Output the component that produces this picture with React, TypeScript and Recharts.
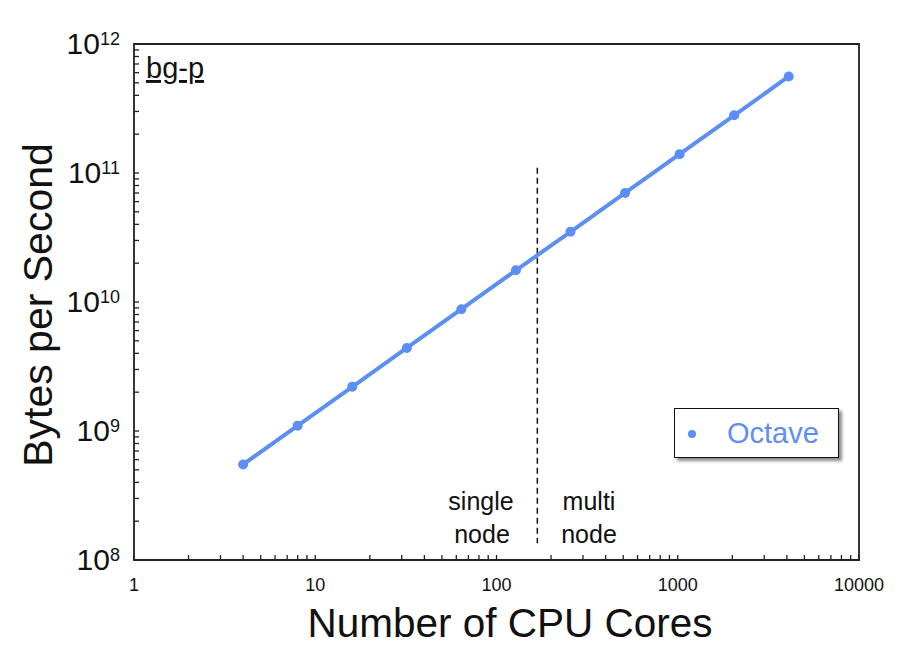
import React from 'react';
import { LineChart, Line, XAxis, YAxis, ReferenceLine, ReferenceArea, Legend } from 'recharts';

// ---- data ----
const cores = [4, 8, 16, 32, 64, 128, 256, 512, 1024, 2048, 4096];
const octaveBytesPerSec = [5.5e8, 1.1e9, 2.2e9, 4.4e9, 8.8e9, 1.76e10, 3.5e10, 7.0e10, 1.4e11, 2.8e11, 5.6e11];
const seriesName = 'Octave';

const xMajorTicks = [1, 10, 100, 1000, 10000];
const xMajorLabels = ['1', '10', '100', '1000', '10000'];
const yMajorTicks = [1e8, 1e9, 1e10, 1e11, 1e12];
const yExponentLabels = ['8', '9', '10', '11', '12'];
const minorMultipliers = [2, 3, 4, 5, 6, 7, 8, 9];

const nodeSplitCores = 168;
const dashTopBytes = 1.1e11;
const dashBottomBytes = 1.35e8;

const BLUE = '#5d8ef6';
const FONT = '"Liberation Sans", Arial, Helvetica, sans-serif';

const rows = cores.map((c, i) => ({ cores: c, octave: octaveBytesPerSec[i] }));

const withMinor = (majors: number[]) => {
  const out: number[] = [];
  majors.forEach((m, i) => {
    out.push(m);
    if (i < majors.length - 1) minorMultipliers.forEach((k) => out.push(m * k));
  });
  return out;
};
const xTicks = withMinor(xMajorTicks);
const yTicks = withMinor(yMajorTicks);

const findMajor = (arr: number[], v: number) => arr.findIndex((m) => Math.abs(v / m - 1) < 1e-6);

const XTick = (props: any) => {
  const { x, y, payload } = props;
  const idx = findMajor(xMajorTicks, payload.value);
  return (
    <g>
      <line x1={x} x2={x} y1={y} y2={y - 5} stroke="#222" strokeWidth={1.3} />
      {idx >= 0 && (
        <text x={x} y={y + 31} textAnchor="middle" fontSize={18} fontFamily={FONT} fill="#111">
          {xMajorLabels[idx]}
        </text>
      )}
    </g>
  );
};

const YTick = (props: any) => {
  const { x, y, payload } = props;
  const idx = findMajor(yMajorTicks, payload.value);
  return (
    <g>
      <line x1={x} x2={x + 5} y1={y} y2={y} stroke="#222" strokeWidth={1.3} />
      {idx >= 0 && (
        <text x={x - 14} y={y + 10} textAnchor="end" fontSize={30} fontFamily={FONT} fill="#111">
          <tspan>10</tspan>
          <tspan dy={-9} fontSize={18}>{yExponentLabels[idx]}</tspan>
        </text>
      )}
    </g>
  );
};

const LegendBox = () => (
  <div
    style={{
      width: 165,
      height: 50,
      boxSizing: 'border-box',
      border: '1.5px solid #111',
      background: '#fff',
      boxShadow: '3px 3px 3px rgba(0,0,0,0.45)',
      position: 'relative',
      fontFamily: FONT,
    }}
  >
    <span
      style={{
        position: 'absolute',
        left: 13,
        top: 21,
        width: 8,
        height: 8,
        borderRadius: '50%',
        background: BLUE,
      }}
    />
    <span style={{ position: 'absolute', left: 52, top: 9, fontSize: 29, lineHeight: '30px', color: BLUE }}>
      {seriesName}
    </span>
  </div>
);

export default function App() {
  return (
    <div style={{ position: 'absolute', left: 0, top: 0, width: 897, height: 671, background: '#fff' }}>
      <LineChart width={897} height={671} data={rows} margin={{ top: 44, right: 38, bottom: 51, left: 14 }}>
        <XAxis
          dataKey="cores"
          type="number"
          scale="log"
          domain={[1, 10000]}
          ticks={xTicks}
          interval={0}
          tickSize={0}
          tickMargin={0}
          tickLine={false}
          axisLine={false}
          tick={<XTick />}
          height={60}
          allowDataOverflow
        />
        <YAxis
          type="number"
          scale="log"
          domain={[1e8, 1e12]}
          ticks={yTicks}
          interval={0}
          tickSize={0}
          tickMargin={0}
          tickLine={false}
          axisLine={false}
          tick={<YTick />}
          width={120}
          allowDataOverflow
        />
        <ReferenceArea x1={1} x2={10000} y1={1e8} y2={1e12} fill="none" stroke="#222" strokeWidth={1.8} ifOverflow="visible" />
        <ReferenceLine
          segment={[
            { x: nodeSplitCores, y: dashTopBytes },
            { x: nodeSplitCores, y: dashBottomBytes },
          ]}
          stroke="#111"
          strokeWidth={1.5}
          strokeDasharray="6 4"
        />
        <Line
          dataKey="octave"
          name={seriesName}
          stroke={BLUE}
          strokeWidth={4}
          dot={{ r: 5, fill: BLUE, stroke: 'none' }}
          isAnimationActive={false}
        />
        <Legend
          layout="horizontal"
          align="center"
          verticalAlign="middle"
          content={<LegendBox />}
          wrapperStyle={{ left: 674, top: 408, width: 165, height: 50 }}
        />
      </LineChart>
      <svg
        width={897}
        height={671}
        style={{ position: 'absolute', left: 0, top: 0, pointerEvents: 'none' }}
        fontFamily={FONT}
      >
        <text x={146} y={78} fontSize={29} fill="#111" textDecoration="underline">bg-p</text>
        <text x={481} y={510} fontSize={25} textAnchor="middle" fill="#111">single</text>
        <text x={482} y={543} fontSize={25} textAnchor="middle" fill="#111">node</text>
        <text x={589} y={510} fontSize={25} textAnchor="middle" fill="#111">multi</text>
        <text x={589} y={543} fontSize={25} textAnchor="middle" fill="#111">node</text>
        <text x={510} y={637} fontSize={40.5} textAnchor="middle" fill="#111">Number of CPU Cores</text>
        <text x={52} y={305} fontSize={41} textAnchor="middle" fill="#111" transform="rotate(-90 52 305)">
          Bytes per Second
        </text>
      </svg>
    </div>
  );
}
